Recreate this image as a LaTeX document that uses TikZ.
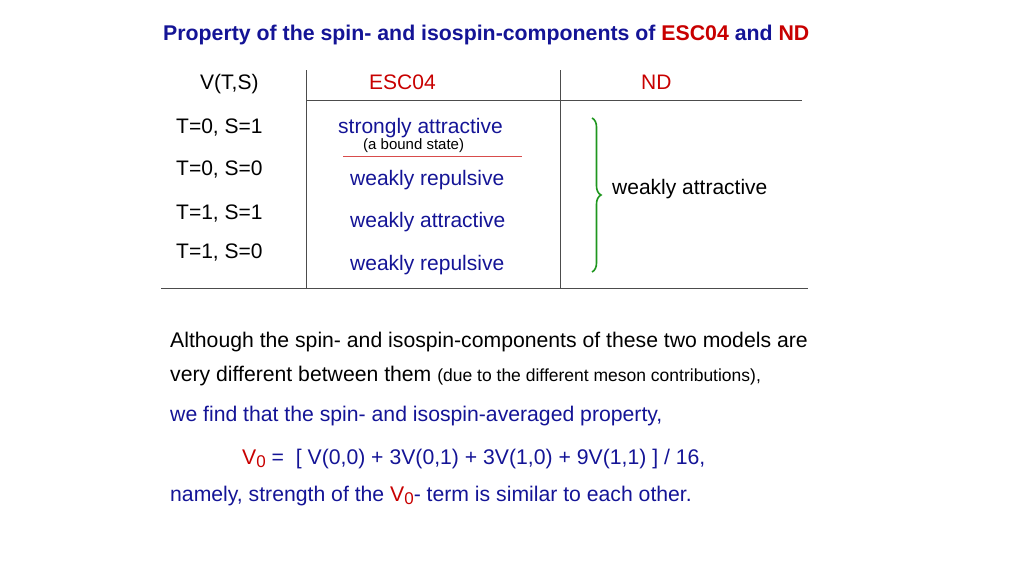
\documentclass[tikz,border=0pt]{standalone}
\usepackage{fontspec}
\setmainfont{Liberation Sans}
\usetikzlibrary{decorations.pathreplacing}
\definecolor{dblue}{RGB}{20,20,150}
\definecolor{dred}{RGB}{200,0,0}
\definecolor{dgreen}{RGB}{30,150,30}
\begin{document}
\begin{tikzpicture}[x=1pt,y=-1pt,
  t/.style={anchor=base west,inner sep=0pt,font=\fontsize{21}{24}\selectfont},
  p/.style={anchor=base west,inner sep=0pt,font=\fontsize{21.2}{25}\selectfont},
  rule/.style={line width=0.8pt,gray!60!black}]
\useasboundingbox (0,0) rectangle (1024,576);
\node[anchor=base west,inner sep=0pt,font=\bfseries\fontsize{21.3}{24}\selectfont,text=dblue] (title) at (163,40) {Property of the spin- and isospin-components of \textcolor{dred}{ESC04} and \textcolor{dred}{ND}};
\node[t] (vts) at (200,89) {V(T,S)};
\node[t,text=dred] (esc) at (369,89) {ESC04};
\node[t,text=dred] (nd) at (641,89) {ND};
\coordinate (v1t) at (306,70); \coordinate (v1b) at (306,288);
\coordinate (v2t) at (560,70); \coordinate (v2b) at (560,288);
\coordinate (h1l) at (306,100); \coordinate (h1r) at (802,100);
\coordinate (h2l) at (161,288); \coordinate (h2r) at (808,288);
\draw[rule] (v1t)--(v1b); \draw[rule] (v2t)--(v2b);
\draw[rule] (h1l)--(h1r); \draw[rule] (h2l)--(h2r);
\node[t] (r1) at (176,133) {T=0, S=1};
\node[t] (r2) at (176,175) {T=0, S=0};
\node[t] (r3) at (176,219) {T=1, S=1};
\node[t] (r4) at (176,258) {T=1, S=0};
\node[t,text=dblue] (e1) at (338,133) {strongly attractive};
\node[anchor=base west,inner sep=0pt,font=\fontsize{15}{17}\selectfont] (e1b) at (363,149) {(a bound state)};
\coordinate (rl) at (343,156); \coordinate (rr) at (522,156);
\draw[dred!70,line width=0.5pt] (rl)--(rr);
\node[t,text=dblue] (e2) at (350,185) {weakly repulsive};
\node[t,text=dblue] (e3) at (350,227) {weakly attractive};
\node[t,text=dblue] (e4) at (350,270) {weakly repulsive};
\coordinate (bt) at (592,118); \coordinate (bb) at (592,272);
\draw[dgreen,line width=1.6pt,decorate,decoration={brace,amplitude=9pt}] (bt)--(bb);
\node[t] (nd1) at (612,194) {weakly attractive};
\node[p] (l1) at (170,347) {Although the spin- and isospin-components of these two models are};
\node[p] (l2) at (170,381) {very different between them {\fontsize{17.5}{20}\selectfont(due to the different meson contributions),}};
\node[p,text=dblue] (l3) at (170,421) {we find that the spin- and isospin-averaged property,};
\node[p,text=dblue] (l4) at (242,464) {\textcolor{dred}{V\raisebox{-0.35ex}{\fontsize{17}{20}\selectfont 0}} =\ \ [ V(0,0) + 3V(0,1) + 3V(1,0) + 9V(1,1) ] / 16,};
\node[p,text=dblue] (l5) at (170,501) {namely, strength of the \textcolor{dred}{V\raisebox{-0.35ex}{\fontsize{17}{20}\selectfont 0}}- term is similar to each other.};
\end{tikzpicture}
\end{document}
